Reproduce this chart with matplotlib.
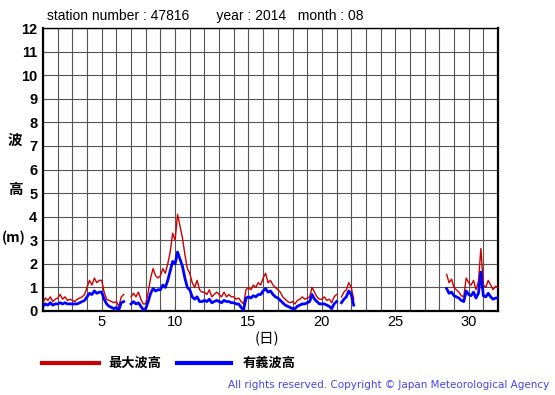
import numpy as np
import matplotlib
matplotlib.use("Agg")
import matplotlib.pyplot as plt

nan = np.nan

station = "47816"
year = "2014"
month = "08"

# wave heights (m), 6 samples per day (every 4 hours), from day 1 00h
max_wave = [
    0.35, 0.55, 0.45, 0.60, 0.40, 0.50,   # 1
    0.55, 0.70, 0.50, 0.60, 0.45, 0.50,   # 2
    0.45, 0.40, 0.50, 0.55, 0.60, 0.70,   # 3
    1.00, 1.30, 1.10, 1.40, 1.20, 1.30,   # 4
    1.30, 0.80, 0.50, 0.45, 0.40, 0.35,   # 5
    0.40, 0.20, 0.60, 0.70, nan, nan,     # 6
    0.60, 0.75, 0.60, 0.80, 0.50, 0.30,   # 7
    0.30, 0.80, 1.40, 1.80, 1.50, 1.40,   # 8
    1.50, 1.80, 1.60, 2.00, 2.50, 3.30,   # 9
    3.00, 4.10, 3.60, 3.10, 2.40, 1.80,   # 10
    1.60, 1.20, 1.00, 1.30, 0.90, 0.80,   # 11
    0.80, 0.70, 0.90, 0.60, 0.70, 0.80,   # 12
    0.70, 0.60, 0.80, 0.60, 0.70, 0.60,   # 13
    0.60, 0.50, 0.55, 0.40, 0.30, 0.90,   # 14
    1.00, 0.90, 1.10, 1.00, 1.20, 1.10,   # 15
    1.40, 1.60, 1.20, 1.30, 1.10, 1.00,   # 16
    0.90, 0.80, 0.60, 0.50, 0.40, 0.35,   # 17
    0.40, 0.30, 0.45, 0.50, 0.60, 0.50,   # 18
    0.55, 0.60, 1.00, 0.80, 0.60, 0.50,   # 19
    0.50, 0.60, 0.45, 0.50, 0.35, 0.60,   # 20
    0.70, nan, 0.60, 0.80, 0.90, 1.20,    # 21
    1.00, 0.50, nan, nan, nan, nan,       # 22
    nan, nan, nan, nan, nan, nan,         # 23
    nan, nan, nan, nan, nan, nan,         # 24
    nan, nan, nan, nan, nan, nan,         # 25
    nan, nan, nan, nan, nan, nan,         # 26
    nan, nan, nan, nan, nan, nan,         # 27
    nan, nan, nan, 1.55, 1.20, 1.35,      # 28
    1.00, 0.90, 0.80, 0.65, 0.60, 1.40,   # 29
    1.20, 1.10, 1.30, 0.90, 1.25, 2.65,   # 30
    1.10, 1.00, 1.30, 1.10, 0.90, 1.05,   # 31
    1.00,
]
sig_wave = [
    0.20, 0.30, 0.25, 0.35, 0.25, 0.30,   # 1
    0.30, 0.35, 0.30, 0.35, 0.30, 0.30,   # 2
    0.30, 0.30, 0.30, 0.35, 0.40, 0.45,   # 3
    0.60, 0.75, 0.70, 0.85, 0.75, 0.80,   # 4
    0.80, 0.50, 0.30, 0.20, 0.15, 0.10,   # 5
    0.15, 0.05, 0.35, 0.40, nan, nan,     # 6
    0.30, 0.40, 0.30, 0.35, 0.20, 0.05,   # 7
    0.10, 0.40, 0.75, 0.95, 0.85, 0.90,   # 8
    0.90, 1.10, 1.00, 1.30, 1.70, 2.10,   # 9
    2.00, 2.50, 2.20, 1.90, 1.40, 1.00,   # 10
    0.90, 0.60, 0.50, 0.60, 0.40, 0.40,   # 11
    0.45, 0.40, 0.50, 0.35, 0.40, 0.45,   # 12
    0.40, 0.35, 0.45, 0.40, 0.40, 0.35,   # 13
    0.35, 0.30, 0.30, 0.15, 0.05, 0.55,   # 14
    0.60, 0.55, 0.65, 0.60, 0.70, 0.70,   # 15
    0.85, 0.95, 0.80, 0.85, 0.70, 0.60,   # 16
    0.55, 0.45, 0.35, 0.25, 0.20, 0.15,   # 17
    0.10, 0.10, 0.20, 0.25, 0.30, 0.30,   # 18
    0.35, 0.40, 0.70, 0.50, 0.40, 0.30,   # 19
    0.30, 0.30, 0.25, 0.20, 0.10, 0.30,   # 20
    0.40, nan, 0.35, 0.50, 0.60, 0.85,    # 21
    0.70, 0.25, nan, nan, nan, nan,       # 22
    nan, nan, nan, nan, nan, nan,         # 23
    nan, nan, nan, nan, nan, nan,         # 24
    nan, nan, nan, nan, nan, nan,         # 25
    nan, nan, nan, nan, nan, nan,         # 26
    nan, nan, nan, nan, nan, nan,         # 27
    nan, nan, nan, 0.95, 0.75, 0.80,      # 28
    0.65, 0.60, 0.55, 0.45, 0.40, 0.85,   # 29
    0.70, 0.65, 0.80, 0.55, 0.75, 1.65,   # 30
    0.65, 0.60, 0.75, 0.60, 0.50, 0.55,   # 31
    0.55,
]
day_ticks = [5, 10, 15, 20, 25, 30]

days = 1 + np.arange(len(max_wave)) / 6.0

latin = "Liberation Sans"
jp = ["Noto Sans CJK JP", "DejaVu Sans"]

fig = plt.figure(figsize=(5.55, 3.95), dpi=100)
ax = fig.add_axes([43 / 555, 84 / 395, 455 / 555, 283 / 395])

ax.plot(days, max_wave, color="#cc0000", linewidth=1.0, zorder=3)
ax.plot(days, sig_wave, color="#0000ff", linewidth=2.0, zorder=4)

ax.set_xlim(1, 32)
ax.set_ylim(0, 12)
ax.set_xticks(np.arange(1, 33), minor=True)
ax.set_xticks(day_ticks)
ax.set_yticks(np.arange(0, 13))
ax.grid(True, which="both", color="#555555", linewidth=0.8, zorder=1)
ax.tick_params(which="both", length=0)
ax.tick_params(axis="x", pad=3)
ax.tick_params(axis="y", pad=4)
for lab in ax.get_xticklabels():
    lab.set_fontfamily(latin)
    lab.set_fontsize(10.5)
for lab in ax.get_yticklabels():
    lab.set_fontfamily(latin)
    lab.set_fontsize(10.5)
    lab.set_fontweight("bold")
for side in ["left", "right", "bottom"]:
    ax.spines[side].set_linewidth(1.6)
ax.spines["top"].set_linewidth(1.0)

fig.text(47 / 555, 1 - 16 / 395,
         f"station number : {station}       year : {year}   month : {month}",
         fontfamily=latin, fontsize=10, va="center", ha="left")

# y label, one character per row
fig.text(15 / 555, 1 - 140 / 395, "波", family=jp, fontsize=10.5,
         fontweight="bold", ha="center", va="center")
fig.text(15 / 555, 1 - 189 / 395, "高", family=jp, fontsize=10.5,
         fontweight="bold", ha="center", va="center")
fig.text(14 / 555, 1 - 238 / 395, "(m)", family=jp, fontsize=10,
         fontweight="bold", ha="center", va="center")
fig.text(267 / 555, 1 - 339 / 395, "(日)", family=jp, fontsize=10.5,
         ha="center", va="center")

# legend drawn by hand below the axes
fig.add_artist(plt.Line2D([42 / 555, 99 / 555], [1 - 363 / 395] * 2,
                          color="#cc0000", linewidth=3))
fig.text(108 / 555, 1 - 363 / 395, "最大波高", family=jp, fontsize=9.5,
         fontweight="bold", va="center")
fig.add_artist(plt.Line2D([177 / 555, 231 / 555], [1 - 363 / 395] * 2,
                          color="#0000ff", linewidth=3))
fig.text(243 / 555, 1 - 363 / 395, "有義波高", family=jp, fontsize=9.5,
         fontweight="bold", va="center")

fig.text(549 / 555, 1 - 385 / 395,
         "All rights reserved. Copyright © Japan Meteorological Agency",
         fontfamily="DejaVu Sans", fontsize=7.5, color="#4444ee",
         ha="right", va="center")

fig.savefig("out.png", dpi=100, facecolor="white")
